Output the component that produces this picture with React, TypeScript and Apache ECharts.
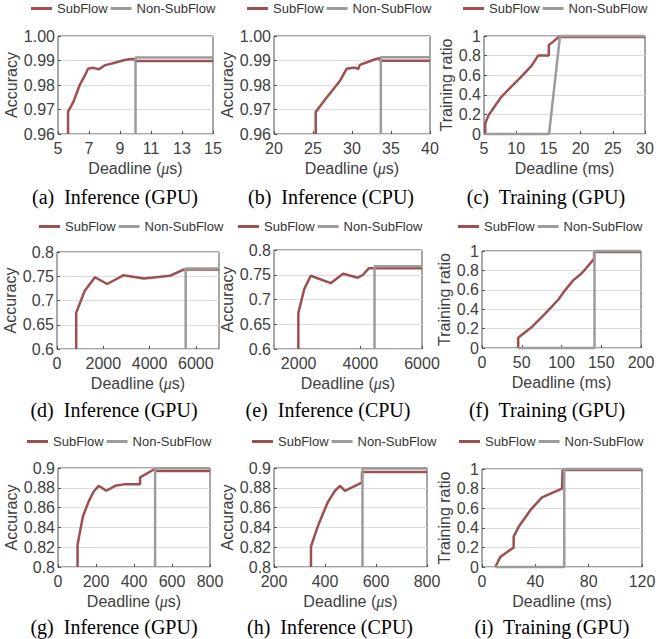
import React, { useEffect, useRef } from "react";
import * as echarts from "echarts";

// ---------- Data ----------
// (a) Inference (GPU), deadline in µs
const subA: number[][] = [[5.65, 0.96], [5.65, 0.9691], [6.0, 0.9732], [6.4, 0.98], [6.72, 0.9837], [6.94, 0.9866], [7.26, 0.987], [7.65, 0.9864], [8.0, 0.988], [8.66, 0.9891], [9.3, 0.9902], [9.73, 0.9906], [10.0, 0.9905], [10.0, 0.9898], [15, 0.9898]];
const nonA: number[][] = [[10.0, 0.96], [10.0, 0.9912], [15, 0.9912]];
// (b) Inference (CPU)
const subB: number[][] = [[25.35, 0.96], [25.35, 0.969], [26.5, 0.9739], [28.4, 0.9814], [29.3, 0.9866], [30.15, 0.987], [30.5, 0.987], [30.8, 0.9865], [31.0, 0.9882], [32.1, 0.9895], [33.1, 0.9906], [33.6, 0.991], [33.6, 0.9899], [40, 0.9899]];
const nonB: number[][] = [[33.7, 0.96], [33.7, 0.9913], [40, 0.9913]];
// (c) Training (GPU), deadline in ms
const subC: number[][] = [[5.2, 0], [5.2, 0.109], [5.7, 0.19], [6.7, 0.285], [7.7, 0.38], [9.25, 0.483], [10.8, 0.585], [12.4, 0.697], [13.4, 0.8], [15.06, 0.8], [15.06, 0.908], [15.7, 0.94], [16.6, 0.99], [30, 0.99]];
const nonC: number[][] = [[5.1, 0], [15.1, 0], [16.8, 1], [30, 1]];
// (d) Inference (GPU)
const subD: number[][] = [[830, 0.6], [830, 0.675], [1200, 0.72], [1640, 0.748], [2170, 0.734], [2860, 0.752], [3760, 0.7455], [4880, 0.751], [5500, 0.764], [7000, 0.764]];
const nonD: number[][] = [[5560, 0.6], [5560, 0.766], [7000, 0.766]];
// (e) Inference (CPU)
const subE: number[][] = [[1990, 0.6], [1990, 0.673], [2180, 0.721], [2390, 0.748], [3040, 0.733], [3440, 0.752], [3920, 0.744], [4090, 0.75], [4270, 0.763], [6000, 0.763]];
const nonE: number[][] = [[4460, 0.6], [4460, 0.767], [6000, 0.767]];
// (f) Training (GPU)
const subF: number[][] = [[45.5, 0], [45.5, 0.105], [47, 0.115], [62.8, 0.217], [79.5, 0.355], [96.2, 0.5], [104.6, 0.597], [115, 0.7], [125.5, 0.77], [138, 0.89], [141, 0.92], [141, 0.99], [200, 0.99]];
const nonF: number[][] = [[45.5, 0], [141.5, 0], [141.5, 1], [200, 1]];
// (g) Inference (GPU)
const subG: number[][] = [[103, 0.8], [103, 0.8227], [131, 0.851], [161, 0.866], [187, 0.876], [214, 0.882], [254, 0.877], [301, 0.882], [354, 0.8837], [432, 0.8837], [432, 0.8905], [509, 0.899], [511, 0.897], [800, 0.897]];
const nonG: number[][] = [[511, 0.8], [511, 0.8997], [800, 0.8997]];
// (h) Inference (CPU)
const subH: number[][] = [[345, 0.8], [345, 0.8207], [373, 0.842], [410, 0.865], [439, 0.877], [459, 0.882], [478, 0.877], [540, 0.8847], [545, 0.8847], [545, 0.896], [800, 0.896]];
const nonH: number[][] = [[547, 0.8], [547, 0.8995], [800, 0.8995]];
// (i) Training (GPU)
const subI: number[][] = [[10, 0], [13.75, 0.103], [23.75, 0.2], [23.75, 0.31], [27.5, 0.41], [36.25, 0.58], [45, 0.71], [60, 0.8], [60.5, 0.99], [120, 0.99]];
const nonI: number[][] = [[10, 0], [61.7, 0], [61.7, 1], [120, 1]];

const subSeries = [subA, subB, subC, subD, subE, subF, subG, subH, subI];
const nonSeries = [nonA, nonB, nonC, nonD, nonE, nonF, nonG, nonH, nonI];

const captions = ["(a)  Inference (GPU)", "(b)  Inference (CPU)", "(c)  Training (GPU)", "(d)  Inference (GPU)", "(e)  Inference (CPU)", "(f)  Training (GPU)", "(g)  Inference (GPU)", "(h)  Inference (CPU)", "(i)  Training (GPU)"];
const yNames = ["Accuracy", "Accuracy", "Training ratio", "Accuracy", "Accuracy", "Training ratio", "Accuracy", "Accuracy", "Training ratio"];
const xUnits = ["us", "us", "ms", "us", "us", "ms", "us", "us", "ms"];
const xMin = [5, 20, 5, 0, 1200, 0, 0, 200, 0];
const xMax = [15, 40, 30, 7000, 6000, 200, 800, 800, 120];
const xTicks: number[][] = [[5, 7, 9, 11, 13, 15], [20, 25, 30, 35, 40], [5, 10, 15, 20, 25, 30], [0, 2000, 4000, 6000], [2000, 4000, 6000], [0, 50, 100, 150, 200], [0, 200, 400, 600, 800], [200, 400, 600, 800], [0, 40, 80, 120]];
const yMin = [0.96, 0.96, 0, 0.6, 0.6, 0, 0.8, 0.8, 0];
const yMax = [1.0, 1.0, 1, 0.8, 0.8, 1, 0.9, 0.9, 1];
const yInterval = [0.01, 0.01, 0.2, 0.05, 0.05, 0.2, 0.02, 0.02, 0.2];
const yDecimals = [2, 2, -1, -1, -1, -1, -1, -1, -1];

// ---------- Layout ----------
const grids = [
  { left: 58, top: 36, width: 155, height: 98 },
  { left: 274, top: 36, width: 156, height: 98 },
  { left: 484, top: 36, width: 161, height: 98 },
  { left: 57, top: 252, width: 162, height: 97 },
  { left: 274, top: 250, width: 148, height: 99 },
  { left: 482, top: 251, width: 159, height: 97 },
  { left: 58, top: 468, width: 152, height: 99 },
  { left: 274, top: 468, width: 153, height: 99 },
  { left: 482, top: 469, width: 160, height: 98 },
];
const yNameGap = [37, 37, 25, 37, 34, 25, 37, 37, 25];
const legendPos = [
  [31, 2], [247, 2], [463, 2],
  [39, 220], [238, 220], [458, 220],
  [27, 435], [252, 435], [459, 435],
];
const captionPos = [
  [115, 197], [331, 197], [546, 197],
  [114, 410], [328, 410], [547, 410],
  [114, 627], [330, 627], [552, 627],
];

const RED = "#9E5050";
const GRAY = "#9C9C9C";
const TXT = "#404040";
const FONT = "'Liberation Sans', Arial, sans-serif";

export default function App() {
  const ref = useRef<HTMLDivElement>(null);
  useEffect(() => {
    if (!ref.current) return;
    const chart = echarts.init(ref.current, undefined, { renderer: "svg" });
    const grid: any[] = [];
    const xAxis: any[] = [];
    const yAxis: any[] = [];
    const series: any[] = [];
    const legend: any[] = [];
    const graphic: any[] = [];
    for (let i = 0; i < 9; i++) {
      grid.push({ ...grids[i], show: true, borderColor: "#505050", borderWidth: 1, backgroundColor: "#fff", containLabel: false });
      xAxis.push({
        type: "value",
        gridIndex: i,
        min: xMin[i],
        max: xMax[i],
        name: xUnits[i] === "us" ? "Deadline ({m|μ}s)" : "Deadline (ms)",
        nameLocation: "middle",
        nameGap: 26,
        nameTextStyle: { fontSize: 16, color: TXT, fontFamily: FONT, rich: { m: { fontSize: 16, fontStyle: "italic", fontFamily: "'Liberation Serif', serif", color: TXT } } },
        axisLine: { show: false },
        axisTick: { show: true, inside: true, length: 3, lineStyle: { color: "#505050" }, customValues: xTicks[i] },
        axisLabel: { fontSize: 16, color: TXT, fontFamily: FONT, margin: 6, customValues: xTicks[i], formatter: (v: number) => String(v) },
        splitLine: { show: false },
      });
      yAxis.push({
        type: "value",
        gridIndex: i,
        min: yMin[i],
        max: yMax[i],
        interval: yInterval[i],
        name: yNames[i],
        nameLocation: "middle",
        nameGap: yNameGap[i],
        nameTextStyle: { fontSize: 16, color: TXT, fontFamily: FONT },
        axisLine: { show: false },
        axisTick: { show: true, inside: true, length: 3, lineStyle: { color: "#505050" } },
        axisLabel: {
          fontSize: 16,
          color: TXT,
          fontFamily: FONT,
          margin: 3,
          formatter: (v: number) => (yDecimals[i] > 0 ? v.toFixed(yDecimals[i]) : String(Math.round(v * 1000) / 1000)),
        },
        splitLine: { show: true, lineStyle: { color: "#DCDCDC", width: 1 } },
      });
      series.push({
        name: "SubFlow",
        type: "line",
        xAxisIndex: i,
        yAxisIndex: i,
        data: subSeries[i],
        showSymbol: false,
        clip: false,
        lineStyle: { color: RED, width: 2.5 },
        itemStyle: { color: RED },
      });
      series.push({
        name: "Non-SubFlow",
        type: "line",
        xAxisIndex: i,
        yAxisIndex: i,
        data: nonSeries[i],
        showSymbol: false,
        clip: false,
        lineStyle: { color: GRAY, width: 2.5 },
        itemStyle: { color: GRAY },
      });
      legend.push({
        data: ["SubFlow", "Non-SubFlow"],
        left: legendPos[i][0],
        top: legendPos[i][1],
        orient: "horizontal",
        icon: "rect",
        itemWidth: 21,
        itemHeight: 3,
        itemGap: 3,
        padding: 0,
        selectedMode: false,
        textStyle: { fontSize: 13, color: "#333", fontFamily: FONT },
      });
      graphic.push({
        type: "text",
        x: captionPos[i][0],
        y: captionPos[i][1],
        style: {
          text: captions[i],
          fill: "#000",
          font: "20px 'Liberation Serif', 'Times New Roman', serif",
          textAlign: "center",
          textVerticalAlign: "middle",
        },
      });
    }
    chart.setOption({
      animation: false,
      backgroundColor: "#fff",
      grid,
      xAxis,
      yAxis,
      series,
      legend,
      graphic,
    });
    return () => chart.dispose();
  }, []);
  return <div ref={ref} style={{ position: "fixed", left: 0, top: 0, width: 671, height: 639 }} />;
}
